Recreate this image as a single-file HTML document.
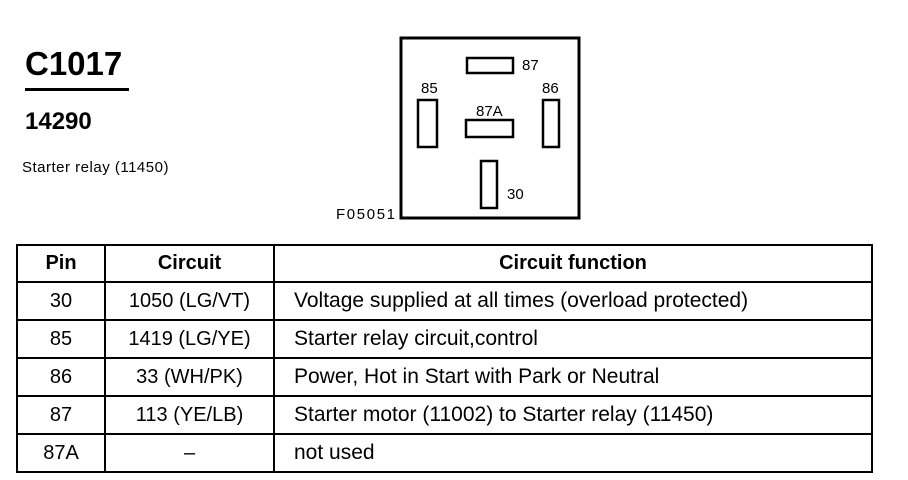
<!DOCTYPE html>
<html><head><style>
body{margin:0;width:908px;height:480px;background:#fff;position:relative;font-family:"Liberation Sans",Arial,sans-serif;color:#000;overflow:hidden}
.a{position:absolute;white-space:nowrap}
table{position:absolute;left:16px;top:244px;border-collapse:collapse;width:857px}
td{border:2px solid #000;height:36px;padding:0;font-size:20px;text-align:center}
td.f{text-align:left;padding-left:19px;font-size:21px}
th{border:2px solid #000;height:35px;font-size:20px;font-weight:bold;padding:0}
</style></head><body>
<div class="a" style="left:25px;top:45px;font-size:33px;font-weight:bold">C1017</div>
<div class="a" style="left:25px;top:88px;width:104px;height:3px;background:#000"></div>
<div class="a" style="left:25px;top:108px;font-size:24px;font-weight:bold">14290</div>
<div class="a" style="left:22px;top:159px;font-size:15px;letter-spacing:0.5px">Starter relay (11450)</div>
<svg class="a" style="left:0;top:0" width="908" height="240">
<rect x="401" y="38" width="178" height="180" fill="none" stroke="#000" stroke-width="3"/>
<g fill="none" stroke="#000" stroke-width="2.5">
<rect x="467" y="58" width="46" height="15"/>
<rect x="418" y="100" width="19" height="47"/>
<rect x="543" y="100" width="16" height="47"/>
<rect x="466" y="120" width="47" height="17"/>
<rect x="481" y="161" width="16" height="47"/>
</g>
<g font-family="Liberation Sans,Arial,sans-serif" font-size="15">
<text x="522" y="70">87</text>
<text x="421" y="93">85</text>
<text x="542" y="93">86</text>
<text x="476" y="116">87A</text>
<text x="507" y="199">30</text>
<text x="336" y="219" textLength="59">F05051</text>
</g>
</svg>
<table>
<tr><th style="width:86px">Pin</th><th style="width:167px">Circuit</th><th>Circuit function</th></tr>
<tr><td>30</td><td>1050 (LG/VT)</td><td class="f">Voltage supplied at all times (overload protected)</td></tr>
<tr><td>85</td><td>1419 (LG/YE)</td><td class="f">Starter relay circuit,control</td></tr>
<tr><td>86</td><td>33 (WH/PK)</td><td class="f">Power, Hot in Start with Park or Neutral</td></tr>
<tr><td>87</td><td>113 (YE/LB)</td><td class="f">Starter motor (11002) to Starter relay (11450)</td></tr>
<tr><td>87A</td><td>–</td><td class="f">not used</td></tr>
</table>
</body></html>
